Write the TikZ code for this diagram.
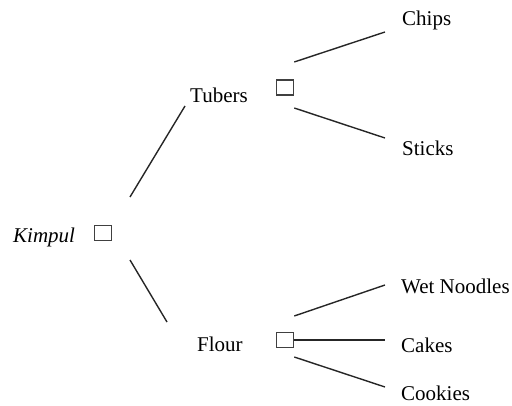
\documentclass[tikz,border=0pt]{standalone}
\usepackage{fontspec}
\setmainfont{Liberation Serif}
\usepackage{tikz}

\tikzset{
  item/.style={inner sep=0pt, anchor=base west, font=\fontsize{21}{25}\selectfont},
  choice/.style={draw=black!75, line width=1.5pt, minimum width=17pt, minimum height=15pt, inner sep=0pt},
  branch/.style={line width=1.4pt, black!85}
}

\begin{document}
\begin{tikzpicture}[x=1pt,y=1pt]
  \useasboundingbox (0,0) rectangle (512,405);
  \node[item]   (kimpul)  at (13,162)  {\textit{Kimpul}};
  \node[choice] (kbox)    at (103,172) {};
  \node[item]   (tubers)  at (190,302.5) {Tubers};
  \node[choice] (tbox)    at (285,317.5) {};
  \node[item]   (flour)   at (197,54)  {Flour};
  \node[choice] (fbox)    at (285,65)  {};
  \node[item]   (chips)   at (402,379) {Chips};
  \node[item]   (sticks)  at (402,249) {Sticks};
  \node[item]   (noodles) at (401,112) {Wet Noodles};
  \node[item]   (cakes)   at (401,53)  {Cakes};
  \node[item]   (cookies) at (401,5)   {Cookies};
  \draw[branch] ([shift={(27,36)}]kbox.center)  -- ([shift={(-5,-3.5)}]tubers.base west);
  \draw[branch] ([shift={(27,-27)}]kbox.center) -- ([shift={(-30,29)}]flour.base west);
  \draw[branch] ([shift={(0,25.5)}]tbox.east)   -- ([shift={(-17,-6)}]chips.base west);
  \draw[branch] ([shift={(0,-20.5)}]tbox.east)  -- ([shift={(-17,18)}]sticks.base west);
  \draw[branch] ([shift={(0,24)}]fbox.east)     -- ([shift={(-16,8)}]noodles.base west);
  \draw[branch] (fbox.east)                     -- ([shift={(-16,12)}]cakes.base west);
  \draw[branch] ([shift={(0,-17)}]fbox.east)    -- ([shift={(-16,13)}]cookies.base west);
\end{tikzpicture}
\end{document}
